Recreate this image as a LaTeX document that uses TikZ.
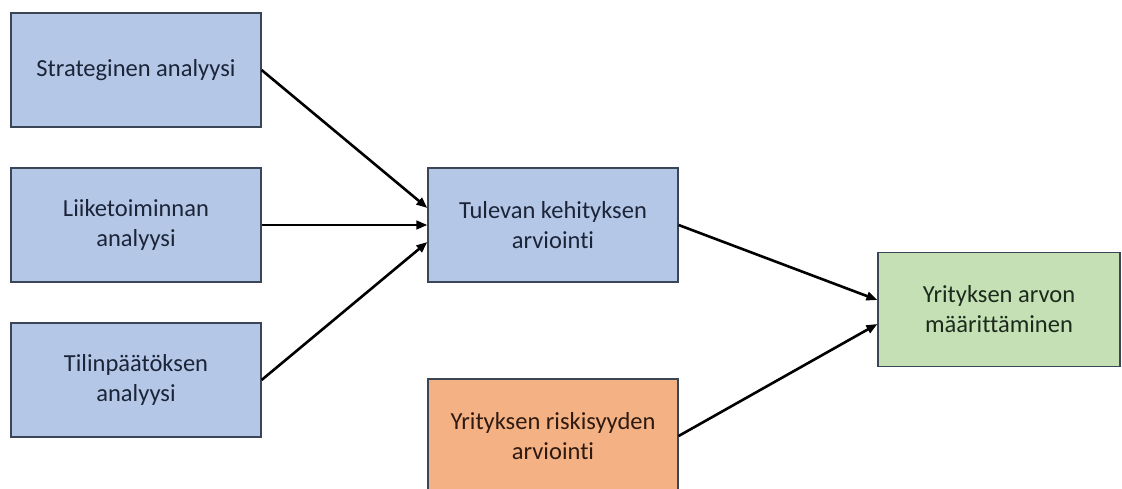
\documentclass[tikz,border=0pt]{standalone}
\usepackage{fontspec}
\setmainfont[RawFeature={-liga;-clig;-dlig}]{Carlito}
\usetikzlibrary{arrows.meta}
\definecolor{boxblue}{HTML}{B4C7E7}
\definecolor{boxgreen}{HTML}{C5E0B4}
\definecolor{boxorange}{HTML}{F4B183}
\definecolor{edgecol}{HTML}{3A4656}
\definecolor{txtblue}{HTML}{1C2438}
\definecolor{txtgreen}{HTML}{1C2A1C}
\definecolor{txtorange}{HTML}{2E1A12}
\begin{document}
\begin{tikzpicture}[x=1pt,y=-1pt,
  box/.style={draw=edgecol, line width=1.2pt, minimum width=250pt, minimum height=114pt,
    align=center, inner sep=0pt, font=\fontsize{24.5}{30}\selectfont},
  bluebox/.style={box, fill=boxblue, text=txtblue},
  greenbox/.style={box, fill=boxgreen, text=txtgreen, minimum width=242pt},
  orangebox/.style={box, fill=boxorange, text=txtorange},
  arr/.style={line width=2.6pt, -{Triangle[length=11pt,width=8.5pt]}, black}]
\useasboundingbox (0,0) rectangle (1122,489);
\clip (0,0) rectangle (1122,489);
\fill[white] (0,0) rectangle (1122,489);
\node[bluebox] (s) at (136,70) {Strateginen analyysi};
\node[bluebox] (l) at (136,225) {Liiketoiminnan\\analyysi};
\node[bluebox] (t) at (136,380) {Tilinpäätöksen\\analyysi};
\node[bluebox] (k) at (553,225) {Tulevan kehityksen\\arviointi};
\node[greenbox] (y) at (999,309.5) {Yrityksen arvon\\määrittäminen};
\node[orangebox] (r) at (553,436) {Yrityksen riskisyyden\\arviointi};
\draw[arr] (s.east) -- ([yshift=17pt]k.west);
\draw[arr] (l.east) -- (k.west);
\draw[arr] (t.east) -- ([yshift=-17pt]k.west);
\draw[arr] (k.east) -- ([yshift=9.5pt]y.west);
\draw[arr] (r.east) -- ([yshift=-14.5pt]y.west);
\end{tikzpicture}
\end{document}
